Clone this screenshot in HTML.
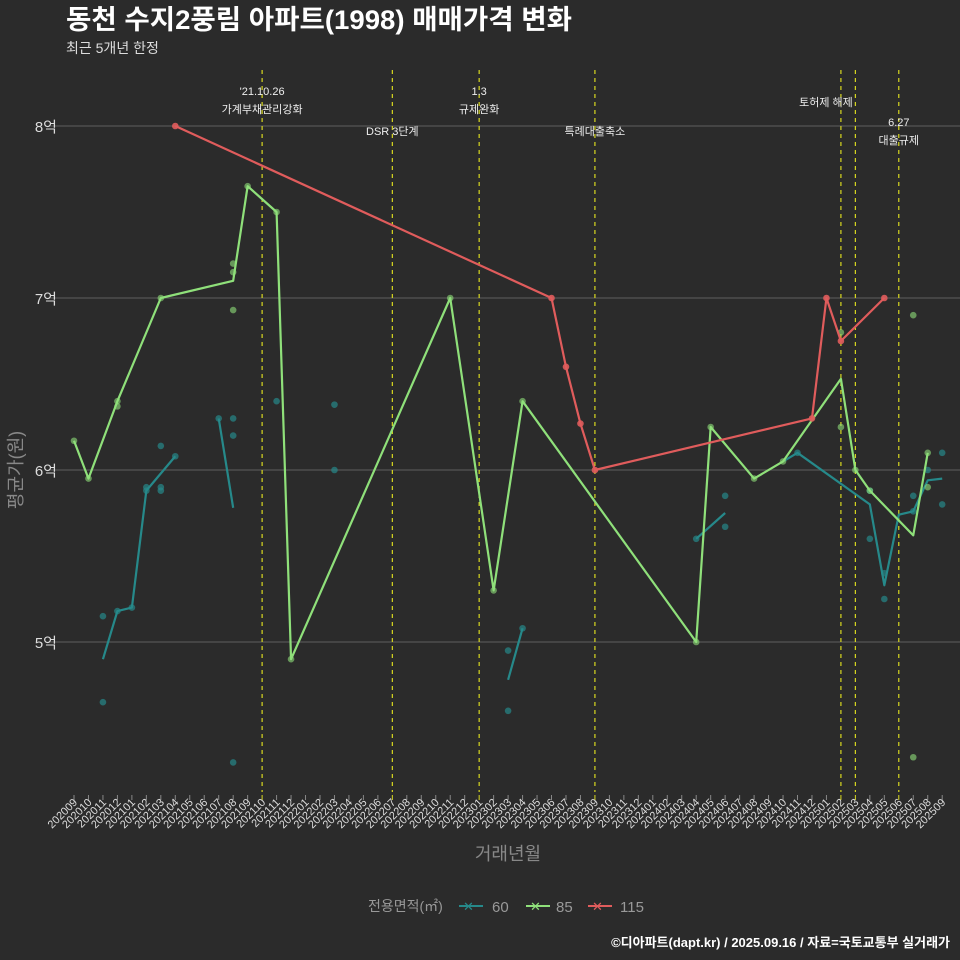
<!DOCTYPE html>
<html><head><meta charset="utf-8">
<style>
html,body{margin:0;padding:0;background:#2b2b2b;}
svg{display:block;font-family:"Liberation Sans","Noto Sans CJK KR",sans-serif;}
</style></head>
<body>
<svg id="chart" width="960" height="960" viewBox="0 0 960 960">
<rect width="960" height="960" fill="#2b2b2b"/>
<text x="66" y="29" fill="#fff" font-size="27" font-weight="bold" textLength="506" lengthAdjust="spacingAndGlyphs">동천 수지2풍림 아파트(1998) 매매가격 변화</text>
<text x="66" y="53" fill="#ddd" font-size="14">최근 5개년 한정</text>
<g id="grid"></g>
<g id="vlines"></g>
<g id="marks"></g>
<g id="xaxis"></g>
<text transform="translate(22,470) rotate(-90)" text-anchor="middle" fill="#888" font-size="18">평균가(원)</text>
<text x="508" y="860" text-anchor="middle" fill="#888" font-size="18">거래년월</text>
<g>
<text x="368" y="911" fill="#999" font-size="14">전용면적(㎡)</text>
<g><line x1="459" y1="906" x2="483" y2="906" stroke="#26898a" stroke-width="2"/><text x="463" y="911" fill="#26898a" font-size="13">✕</text><text x="492" y="912" fill="#999" font-size="15">60</text></g>
<g><line x1="526" y1="906" x2="550" y2="906" stroke="#8fe07a" stroke-width="2"/><text x="530" y="911" fill="#8fe07a" font-size="13">✕</text><text x="556" y="912" fill="#999" font-size="15">85</text></g>
<g><line x1="588" y1="906" x2="612" y2="906" stroke="#e05c5c" stroke-width="2"/><text x="592" y="911" fill="#e05c5c" font-size="13">✕</text><text x="620" y="912" fill="#999" font-size="15">115</text></g>
</g>
<text x="950" y="947" text-anchor="end" fill="#fff" font-size="13" font-weight="bold">©디아파트(dapt.kr) / 2025.09.16 / 자료=국토교통부 실거래가</text>
</svg>
<script>
const months=[];for(let y=2020,m=9;months.length<61;){months.push(y+String(m).padStart(2,'0'));m++;if(m>12){m=1;y++;}}
const yTicks=[5,6,7,8];
const yTickLabels=['5억','6억','7억','8억'];
const line85I=[0,1,3,6,11,12,14,15,26,29,31,43,44,47,49,53,54,55,58,59];
const line85V=[6.17,5.95,6.4,7.0,7.1,7.65,7.5,4.9,7.0,5.3,6.4,5.0,6.25,5.95,6.05,6.53,6.0,5.88,5.62,6.1];
const line115I=[7,33,34,35,36,51,52,53,56];
const line115V=[8.0,7.0,6.6,6.27,6.0,6.3,7.0,6.75,7.0];
const line60Segs=[
 [[2,4.9],[3,5.18],[4,5.2],[5,5.88],[7,6.08]],
 [[10,6.3],[11,5.78]],
 [[30,4.78],[31,5.08]],
 [[43,5.6],[45,5.75]],
 [[49,6.05],[50,6.1],[55,5.8],[56,5.33],[57,5.74],[58,5.76],[59,5.94],[60,5.95]]
];
const dots60=[[2,5.15],[2,4.65],[3,5.18],[4,5.2],[5,5.88],[5,5.9],[6,6.14],[6,5.9],[6,5.88],[7,6.08],[10,6.3],[11,6.3],[11,6.2],[11,4.3],[14,6.4],[18,6.38],[18,6.0],[30,4.95],[30,4.6],[31,5.08],[43,5.6],[45,5.85],[45,5.67],[50,6.1],[55,5.88],[55,5.6],[56,5.4],[56,5.25],[58,5.85],[58,5.76],[59,6.0],[60,6.1],[60,5.8]];
const dots85=[[0,6.17],[1,5.95],[3,6.4],[3,6.37],[6,7.0],[11,7.2],[11,7.15],[11,6.93],[12,7.65],[14,7.5],[15,4.9],[26,7.0],[29,5.3],[31,6.4],[43,5.0],[44,6.25],[47,5.95],[49,6.05],[53,6.8],[53,6.25],[54,6.0],[55,5.88],[58,6.9],[58,4.33],[59,6.1],[59,5.9]];
const eventI=[13,22,28,36,53,54,57];
const eventLabels=[["'21.10.26","가계부채관리강화",91],["DSR 3단계","",131],["1.3","규제완화",91],["특례대출축소","",131],["토허제 해제","",102],["","",0],["6.27","대출규제",122]];
const X=i=>74+i*14.47, Y=v=>126+(8-v)*172;
const NS='http://www.w3.org/2000/svg';
function mk(p,t,a){const e=document.createElementNS(NS,t);for(const k in a)e.setAttribute(k,a[k]);p.appendChild(e);return e;}
const grid=document.getElementById('grid');
yTicks.forEach((v,k)=>{
 const l=mk(grid,'line',{x1:50,x2:960,y1:Y(v),y2:Y(v),stroke:'#555','stroke-width':1.2});
 
 
 const t=mk(grid,'text',{x:57,y:Y(v)+6,'text-anchor':'end',fill:'#ddd','font-size':15});t.textContent=yTickLabels[k];
 
 
});
const vl=document.getElementById('vlines');
eventI.forEach((i,k)=>{
 const l=mk(vl,'line',{x1:X(i),x2:X(i),y1:70,y2:792,stroke:'#d8d820','stroke-width':1.2,'stroke-dasharray':'4,4'});
 
 
 const [a,b,yy]=eventLabels[k];
 if(a){const t=mk(vl,'text',{x:X(i)-(k==4?15:0),y:yy+4,'text-anchor':'middle',fill:'#eee','font-size':11});t.textContent=a;
  
  }
 if(b){const t=mk(vl,'text',{x:X(i),y:yy+22,'text-anchor':'middle',fill:'#eee','font-size':11});t.textContent=b;
  
  }
});
const xa=document.getElementById('xaxis');
months.forEach((m,i)=>{
 const yl=eventI.includes(i);
 const l=mk(xa,'line',{x1:X(i),x2:X(i),y1:795,y2:800,stroke:yl?'#d8d820':'#888','stroke-width':1});
 
 
 const t=mk(xa,'text',{transform:`translate(${X(i)+4},803) rotate(-45)`,'text-anchor':'end',fill:'#ddd','font-size':11});t.textContent=m;
 
 
});
const mg=document.getElementById('marks');
function poly(pts,c,name){const e=mk(mg,'polyline',{points:pts.map(p=>X(p[0])+','+Y(p[1])).join(' '),fill:'none',stroke:c,'stroke-width':2.2,'stroke-linejoin':'round'});
 
 }
function dots(arr,c,name,op){arr.forEach(p=>{const e=mk(mg,'circle',{cx:X(p[0]),cy:Y(p[1]),r:3.3,fill:c,opacity:op});
 
 });}
dots(dots60,'#26898a','dot-60',0.7);
line60Segs.forEach(s=>poly(s,'#26898a','line-60'));
dots(dots85,'#8fe07a','dot-85',0.6);
poly(line85I.map((i,k)=>[i,line85V[k]]),'#8fe07a','line-85');
dots(line115I.map((i,k)=>[i,line115V[k]]),'#e05c5c','dot-115',0.9);
poly(line115I.map((i,k)=>[i,line115V[k]]),'#e05c5c','line-115');
</script>
</body></html>
